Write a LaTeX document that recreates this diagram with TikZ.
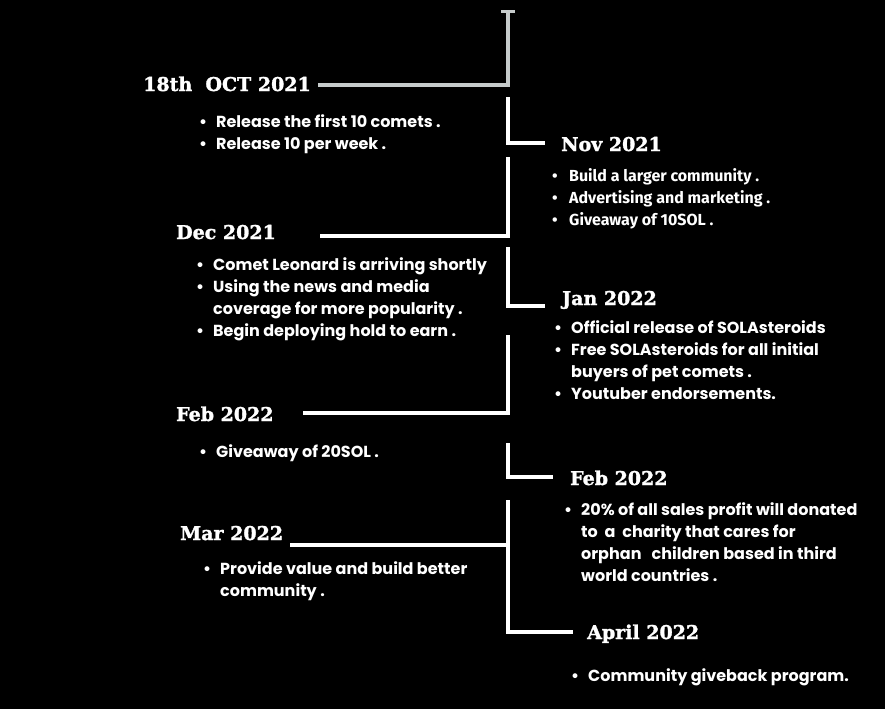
\documentclass[tikz,border=0pt]{standalone}
\usepackage{fontspec}
\usepackage{xcolor}
\usepackage{tikz}
\usetikzlibrary{positioning}
\newfontfamily\headfont{DejaVu Serif Bold}[FakeBold=1.6]
\newfontfamily\listfont{Poppins}
\newfontfamily\altfont{Fira Sans}
\definecolor{railgray}{HTML}{C6CBCB}
\newcommand{\itm}{\makebox[17pt][l]{\textbullet}}
\newcommand{\cnt}{\hspace*{17pt}}

\begin{document}
\begin{tikzpicture}[
  x=1pt, y=-1pt,
  rail/.style={line width=4.5pt, white},
  toprail/.style={line width=4.5pt, railgray},
  head/.style={font=\headfont\fontsize{19}{22}\selectfont,
    text=white, inner sep=0pt, anchor=base west},
  items/.style={font=\listfont\bfseries\fontsize{16}{22}\selectfont,
    text=white, inner sep=0pt, anchor=base west, align=left},
]
  \fill[black] (0,0) rectangle (885,709);
  \useasboundingbox (0,0) rectangle (885,709);

  % ── Rail corners ─────────────────────────────────────────────────────
  \coordinate (capl) at (501,12);  \coordinate (capr) at (515,12);
  \coordinate (a0) at (508,12);  \coordinate (a1) at (508,85);  \coordinate (a2) at (318,85);
  \coordinate (b0) at (508,97);  \coordinate (b1) at (508,143); \coordinate (b2) at (545,143);
  \coordinate (c0) at (508,157); \coordinate (c1) at (508,236); \coordinate (c2) at (320,236);
  \coordinate (d0) at (508,247); \coordinate (d1) at (508,306); \coordinate (d2) at (545,306);
  \coordinate (e0) at (508,335); \coordinate (e1) at (508,413); \coordinate (e2) at (303,413);
  \coordinate (f0) at (508,443); \coordinate (f1) at (508,477); \coordinate (f2) at (553,477);
  \coordinate (g0) at (508,500); \coordinate (g1) at (508,632); \coordinate (g2) at (573,632);
  \coordinate (gm) at (508,545); \coordinate (g3) at (290,545);

  % ── Rail ─────────────────────────────────────────────────────────────
  \draw[toprail, line width=3pt] (capl) -- (capr);
  \draw[toprail] (a0) -- (a1) -- (a2);
  \draw[rail] (b0) -- (b1) -- (b2);
  \draw[rail] (c0) -- (c1) -- (c2);
  \draw[rail] (d0) -- (d1) -- (d2);
  \draw[rail] (e0) -- (e1) -- (e2);
  \draw[rail] (f0) -- (f1) -- (f2);
  \draw[rail] (g0) -- (g1) -- (g2);
  \draw[rail] (gm) -- (g3);

  % ── Headings ─────────────────────────────────────────────────────────
  \node[head] (oct)  at (143,91)  {18th\ \ OCT 2021};
  \node[head] (nov)  at (561,151) {Nov 2021};
  \node[head] (dec)  at (176,239) {Dec 2021};
  \node[head] (jan)  at (562,305) {Jan 2022};
  \node[head] (febl) at (176,421) {Feb 2022};
  \node[head] (febr) at (570,485) {Feb 2022};
  \node[head] (mar)  at (180,540) {Mar 2022};
  \node[head] (apr)  at (587,639) {April 2022};

  % ── Lists (anchored on the baseline of their last line) ─────────────
  \node[items] (octlist) at (199,149) {\itm Release the first 10 comets .\\
    \itm Release 10 per week .};
  \node[items, font=\altfont\bfseries\fontsize{16}{22}\selectfont] (novlist) at (552,225)
    {\itm Build a larger community .\\
    \itm Advertising and marketing .\\
    \itm Giveaway of 10SOL .};
  \node[items] (declist) at (196,336) {\itm Comet Leonard is arriving shortly\\
    \itm Using the news and media\\
    \cnt coverage for more popularity .\\
    \itm Begin deploying hold to earn .};
  \node[items] (janlist) at (554,399) {\itm Official release of SOLAsteroids\\
    \itm Free SOLAsteroids for all initial\\
    \cnt buyers of pet comets .\\
    \itm Youtuber endorsements.};
  \node[items] (febllist) at (199,457) {\itm Giveaway of 20SOL .};
  \node[items] (febrlist) at (564,581) {\itm 20\% of all sales profit will donated\\
    \cnt to\ \ a\ \ charity that cares for\\
    \cnt orphan\ \ \ children based in third\\
    \cnt world countries .};
  \node[items] (marlist) at (203,596) {\itm Provide value and build better\\
    \cnt community .};
  \node[items] (aprlist) at (571,681) {\itm Community giveback program.};
\end{tikzpicture}
\end{document}
